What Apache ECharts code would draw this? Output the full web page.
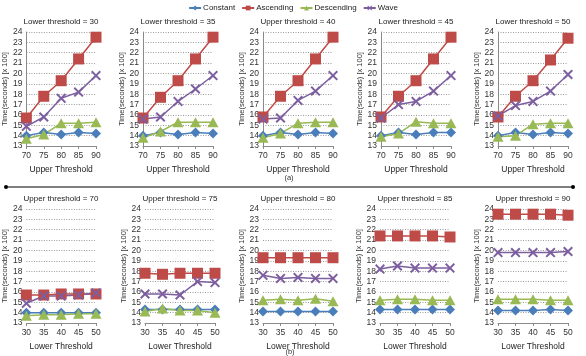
<!DOCTYPE html>
<html><head><meta charset="utf-8">
<script src="https://cdn.jsdelivr.net/npm/echarts@6/dist/echarts.min.js"></script>
<style>html,body{margin:0;padding:0;background:#fff}#c{width:586px;height:356px}</style>
</head><body><div id="c"></div>
<script>
const upperThresholds = ['70', '75', '80', '85', '90'];
const lowerThresholds = ['30', '35', '40', '45', '50'];
const seriesNames = ['Constant', 'Ascending', 'Descending', 'Wave'];
const topTitles = ['Lower threshold = 30', 'Lower threshold = 35', 'Upper threshold = 40', 'Lower threshold = 45', 'Lower threshold = 50'];
const bottomTitles = ['Upper threshold = 70', 'Upper threshold = 75', 'Upper threshold = 80', 'Upper threshold = 85', 'Upper threshold = 90'];
const yMin = 13, yMax = 24, yStep = 1;

// rows: lower threshold 30..50 ; columns: upper threshold 70..90  (time in seconds x 100)
const constantTimes = [
  [14.0, 14.3, 14.1, 14.3, 14.2],
  [14.0, 14.3, 14.1, 14.3, 14.2],
  [14.0, 14.3, 14.1, 14.3, 14.2],
  [14.0, 14.3, 14.1, 14.3, 14.3],
  [14.0, 14.3, 14.1, 14.3, 14.2]
];
const ascendingTimes = [
  [15.7, 17.8, 19.3, 21.4, 23.5],
  [15.7, 17.7, 19.3, 21.4, 23.5],
  [15.8, 17.8, 19.3, 21.4, 23.5],
  [15.8, 17.8, 19.3, 21.4, 23.5],
  [15.8, 17.8, 19.3, 21.3, 23.4]
];
const descendingTimes = [
  [13.7, 14.1, 15.2, 15.2, 15.3],
  [13.8, 14.4, 15.3, 15.3, 15.3],
  [13.8, 14.2, 15.2, 15.3, 15.3],
  [13.9, 14.2, 15.35, 15.2, 15.2],
  [13.9, 14.0, 15.1, 15.2, 15.2]
];
const waveTimes = [
  [14.9, 15.8, 17.6, 18.2, 19.8],
  [15.6, 15.8, 17.3, 18.5, 19.8],
  [15.6, 15.7, 17.4, 18.3, 19.8],
  [15.7, 17.0, 17.3, 18.3, 19.8],
  [15.9, 16.9, 17.3, 18.3, 19.9]
];

const matrices = [constantTimes, ascendingTimes, descendingTimes, waveTimes];
const colors = ['#4A7EBB', '#BE4B48', '#98B954', '#7D5FA0'];
const symbols = ['diamond', 'rect', 'triangle', 'path://M0,1.4L1.4,0L5,3.6L8.6,0L10,1.4L6.4,5L10,8.6L8.6,10L5,6.4L1.4,10L0,8.6L3.6,5Z'];
const symbolSizes = [[10, 10], [11, 11], [11, 10], [10, 10]];

const topLefts = [26, 143, 263, 381, 498];
const botLefts = [26, 145, 263, 380, 498];
const plotW = 70, plotH = 114, topY = 32, botY = 209;
const FONT = 'Liberation Sans, Arial, sans-serif';

const grids = [], xAxes = [], yAxes = [], series = [], titles = [];
function addPanel(idx, left, top, cats, xName, title, getVals, showYLine) {
  grids.push({ left: left, top: top, width: plotW, height: plotH });
  titles.push({ text: title, left: left + plotW / 2, top: top - 14, textAlign: 'center', padding: 0,
    textStyle: { fontSize: 8, fontWeight: 'normal', color: '#1a1a1a', fontFamily: FONT } });
  xAxes.push({ type: 'category', gridIndex: idx, data: cats, boundaryGap: false,
    name: xName, nameLocation: 'middle', nameGap: 19,
    nameTextStyle: { fontSize: 8.5, color: '#222', fontFamily: FONT },
    axisLine: { lineStyle: { color: '#8a8a8a', width: 1 } },
    axisTick: { show: true, length: 3, lineStyle: { color: '#8a8a8a' } },
    axisLabel: { fontSize: 8.5, color: '#333', margin: 5, fontFamily: FONT } });
  yAxes.push({ type: 'value', gridIndex: idx, min: yMin, max: yMax, interval: yStep,
    name: 'Time(seconds) [x 100]', nameLocation: 'middle', nameGap: 17,
    nameTextStyle: { fontSize: 7.5, color: '#333', fontFamily: FONT },
    axisLine: { show: showYLine, lineStyle: { color: '#8a8a8a', width: 1 } },
    axisTick: { show: false },
    axisLabel: { fontSize: 8.5, color: '#333', margin: 4, fontFamily: FONT },
    splitLine: { show: true, lineStyle: { color: '#9a9a9a', type: [1, 1.5], width: 1 } } });
  matrices.forEach((m, s) => {
    series.push({ type: 'line', name: seriesNames[s], xAxisIndex: idx, yAxisIndex: idx,
      data: getVals(m), symbol: symbols[s], symbolSize: symbolSizes[s], showAllSymbol: true,
      color: colors[s], lineStyle: { width: 1.5, color: colors[s] },
      itemStyle: { color: colors[s], opacity: 1 }, animation: false });
  });
}
for (let i = 0; i < 5; i++) {
  addPanel(i, topLefts[i], topY, upperThresholds, 'Upper Threshold', topTitles[i], m => m[i], true);
}
for (let j = 0; j < 5; j++) {
  addPanel(5 + j, botLefts[j], botY, lowerThresholds, 'Lower Threshold', bottomTitles[j], m => m.map(r => r[j]), false);
}

const chart = echarts.init(document.getElementById('c'), null, { renderer: 'canvas' });
chart.setOption({
  animation: false,
  backgroundColor: '#fff',
  title: titles,
  legend: { data: seriesNames, top: 4, left: 'center', padding: 0, itemWidth: 12, itemHeight: 6, itemGap: 6,
    textStyle: { fontSize: 8, color: '#222', fontFamily: FONT, padding: [0, 0, 0, -3] } },
  grid: grids, xAxis: xAxes, yAxis: yAxes, series: series,
  graphic: [
    { type: 'line', shape: { x1: 6, y1: 187, x2: 573, y2: 187 }, style: { stroke: '#000', lineWidth: 1.2 } },
    { type: 'circle', shape: { cx: 6, cy: 187, r: 2 }, style: { fill: '#000' } },
    { type: 'circle', shape: { cx: 573, cy: 187, r: 2 }, style: { fill: '#000' } },
    { type: 'text', x: 289, y: 178, style: { text: '(a)', fontSize: 7.5, fill: '#333', align: 'center', verticalAlign: 'middle', fontFamily: FONT } },
    { type: 'text', x: 290, y: 352, style: { text: '(b)', fontSize: 7.5, fill: '#333', align: 'center', verticalAlign: 'middle', fontFamily: FONT } }
  ]
});
</script></body></html>
